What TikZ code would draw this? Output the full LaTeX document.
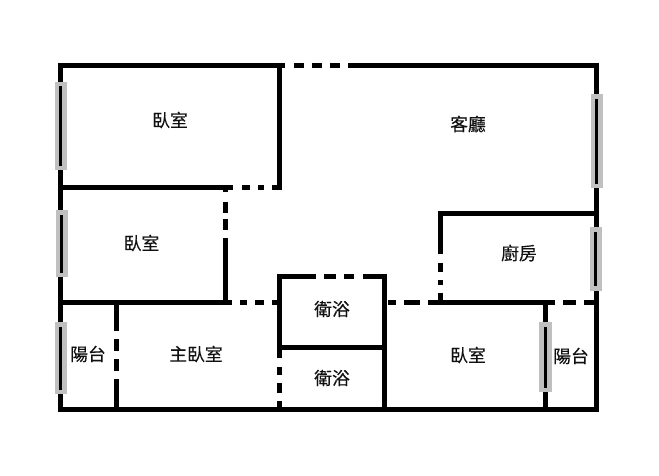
\documentclass[tikz,border=0pt]{standalone}
\usepackage{fontspec}
\newfontfamily\cjk[FakeBold=0.3]{Noto Sans CJK TC}
\tikzset{
  wall/.style={line width=5.5pt,black,line cap=butt,line join=miter},
  pane/.style={fill=winGray,draw=none},
  glass/.style={line width=3pt,black,line cap=butt},
  room/.style={font=\cjk\fontsize{17.8}{18}\selectfont,inner sep=0pt,text=labelBlack}
}
\definecolor{winGray}{HTML}{C0C0C0}
\definecolor{labelBlack}{HTML}{111111}
\begin{document}
\begin{tikzpicture}[x=1pt,y=-1pt]
\useasboundingbox[fill=white] (0,0) rectangle (659,476);
% outer walls
\draw[wall] (348,65.5) -- (596.5,65.5) -- (596.5,409.5) -- (60.5,409.5) -- (60.5,65.5) -- (285,65.5);
\draw[wall] (294,65.5) -- (304,65.5) (312,65.5) -- (322,65.5) (330,65.5) -- (340,65.5);
% bedroom 1
\draw[wall] (279.5,65.5) -- (279.5,187.5) -- (272,187.5);
\draw[wall] (60.5,187.5) -- (233,187.5) (242,187.5) -- (250,187.5) (258,187.5) -- (264,187.5);
% bedroom 2
\draw[wall] (225.5,187.5) -- (225.5,192) (225.5,202) -- (225.5,213) (225.5,219) -- (225.5,230) (225.5,238) -- (225.5,302);
\draw[wall] (60.5,302.5) -- (232,302.5) (240,302.5) -- (247,302.5) (255,302.5) -- (264,302.5) (272,302.5) -- (279,302.5);
% balcony left
\draw[wall] (116.5,302) -- (116.5,331) (116.5,339) -- (116.5,351) (116.5,359) -- (116.5,371) (116.5,379) -- (116.5,409);
% baths
\draw[wall] (316,276.5) -- (279.5,276.5) -- (279.5,358) (279.5,367) -- (279.5,375) (279.5,383) -- (279.5,393) (279.5,401) -- (279.5,409);
\draw[wall] (324,276.5) -- (336,276.5) (344,276.5) -- (354,276.5) (363,276.5) -- (384.5,276.5) -- (384.5,409);
\draw[wall] (279.5,347.5) -- (385,347.5);
% right of baths
\draw[wall] (388,302.5) -- (396,302.5) (404,302.5) -- (420,302.5) (428,302.5) -- (555,302.5) (563,302.5) -- (576,302.5) (584,302.5) -- (596,302.5);
% kitchen
\draw[wall] (596,213.5) -- (440.5,213.5) -- (440.5,254) (440.5,263) -- (440.5,272) (440.5,280) -- (440.5,285) (440.5,293) -- (440.5,302);
% balcony right
\draw[wall] (545.5,302) -- (545.5,409);
% windows
\fill[pane] (54.5,82) rectangle (66.5,170);
\draw[glass] (60.5,86.5) -- (60.5,166);
\fill[pane] (55.5,210) rectangle (67.5,277);
\draw[glass] (61.5,215) -- (61.5,273);
\fill[pane] (54.5,322) rectangle (66.5,394);
\draw[glass] (60.5,327) -- (60.5,390);
\fill[pane] (590.5,94) rectangle (603,188.5);
\draw[glass] (596.5,99) -- (596.5,184);
\fill[pane] (589.5,227) rectangle (601.5,291);
\draw[glass] (595.5,232) -- (595.5,286);
\fill[pane] (539,322) rectangle (551.5,392);
\draw[glass] (545.5,327) -- (545.5,388);
% labels
\node[room] (r1) at (170,120) {臥室};
\node[room] (r2) at (141.5,243) {臥室};
\node[room] (living) at (468,124) {客廳};
\node[room] (kitchen) at (519,253) {廚房};
\node[room] (bath1) at (332,309) {衛浴};
\node[room] (bath2) at (332,378) {衛浴};
\node[room] (master) at (196,354) {主臥室};
\node[room] (balc1) at (88,354) {陽台};
\node[room] (r3) at (468,355) {臥室};
\node[room] (balc2) at (571,356) {陽台};
\end{tikzpicture}
\end{document}
